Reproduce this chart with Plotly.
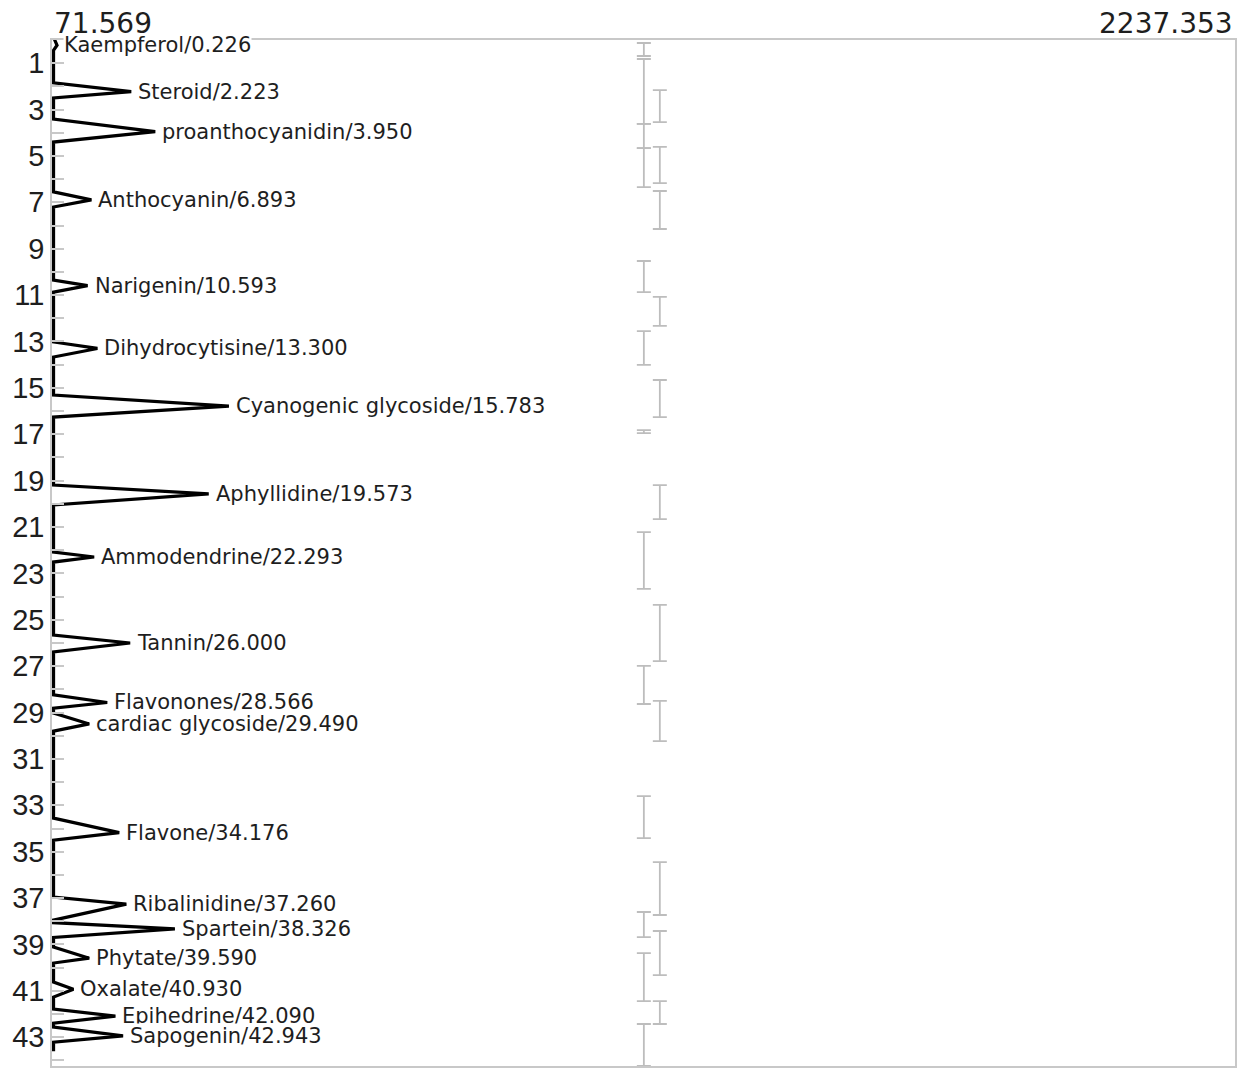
import plotly.graph_objects as go

# ---------------- data ----------------
compound_names = ["Kaempferol", "Steroid", "proanthocyanidin", "Anthocyanin", "Narigenin",
                  "Dihydrocytisine", "Cyanogenic glycoside", "Aphyllidine", "Ammodendrine",
                  "Tannin", "Flavonones", "cardiac glycoside", "Flavone", "Ribalinidine",
                  "Spartein", "Phytate", "Oxalate", "Epihedrine", "Sapogenin"]
retention_times = [0.226, 2.223, 3.950, 6.893, 10.593, 13.300, 15.783, 19.573, 22.293,
                   26.000, 28.566, 29.490, 34.176, 37.260, 38.326, 39.590, 40.930, 42.090, 42.943]
peak_heights = [78, 214, 258, 141, 134, 152, 393, 356, 146,
                212, 170, 137, 192, 205, 294, 137, 108, 185, 199]
peak_starts = [-0.12, 1.85, 3.41, 6.55, 10.35, 13.02, 15.31, 19.19, 22.08,
               25.66, 28.24, 29.02, 33.55, 36.96, 38.06, 39.11, 40.62, 41.79, 42.56]
peak_ends = [0.45, 2.50, 4.40, 7.20, 10.87, 13.67, 16.26, 20.05, 22.51,
             26.39, 28.81, 29.80, 34.50, 37.95, 38.70, 39.80, 41.27, 42.39, 43.21]
run_end_time = 43.6

intensity_min = 71.569
intensity_max = 2237.353

# gray integration-window bars (two columns)
left_bar_start = [0.13, 0.82, 3.62, 4.66, 9.53, 12.55, 16.82, 21.22, 26.99, 32.60, 37.60, 39.37, 42.43]
left_bar_end = [0.69, 3.62, 4.66, 6.34, 10.87, 14.01, 16.95, 23.67, 28.63, 34.41, 38.68, 41.44, 44.24]
right_bar_start = [2.16, 4.61, 6.51, 11.08, 14.66, 19.19, 24.36, 28.50, 35.45, 38.42, 41.44]
right_bar_end = [3.54, 6.17, 8.15, 12.33, 16.26, 20.66, 26.78, 30.23, 37.73, 40.32, 42.43]

y_tick_vals = [1, 3, 5, 7, 9, 11, 13, 15, 17, 19, 21, 23, 25, 27, 29, 31, 33, 35, 37, 39, 41, 43]
y_tick_text = ["1", "3", "5", "7", "9", "11", "13", "15", "17", "19", "21", "23", "25",
               "27", "29", "31", "33", "35", "37", "39", "41", "43"]
y_minor_vals = [0, 2, 4, 6, 8, 10, 12, 14, 16, 18, 20, 22, 24, 26, 28, 30, 32, 34, 36, 38, 40, 42, 44]

# ---------------- build trace ----------------
sig_t, sig_v = [], []
for s, rt, h, e in zip(peak_starts, retention_times, peak_heights, peak_ends):
    sig_t += [s, rt, e]
    sig_v += [intensity_min, h, intensity_min]
sig_t.append(run_end_time)
sig_v.append(intensity_min)

span = intensity_max - intensity_min
x_lo = intensity_min - 0.0013 * span
x_hi = intensity_max
left_col_x = x_lo + 0.5003 * (x_hi - x_lo)
right_col_x = x_lo + 0.5138 * (x_hi - x_lo)

fig = go.Figure()

bar_col = "#bdbdbd"
for col_x, starts, ends in [(left_col_x, left_bar_start, left_bar_end),
                            (right_col_x, right_bar_start, right_bar_end)]:
    mids = [(a + b) / 2 for a, b in zip(starts, ends)]
    fig.add_trace(go.Scatter(
        x=[col_x] * len(mids), y=mids, mode="markers",
        marker=dict(size=1, color="rgba(0,0,0,0)"),
        error_y=dict(type="data", symmetric=False,
                     array=[b - m for b, m in zip(ends, mids)],
                     arrayminus=[m - a for a, m in zip(starts, mids)],
                     color=bar_col, thickness=1.8, width=7),
        hoverinfo="skip", showlegend=False))

fig.add_trace(go.Scatter(x=sig_v, y=sig_t, mode="lines",
                         line=dict(color="black", width=3.2), showlegend=False,
                         hoverinfo="skip"))

text_font = dict(family="DejaVu Sans", size=21, color="#1e1e1e")
for name, rt, h in zip(compound_names, retention_times, peak_heights):
    fig.add_annotation(x=h, y=rt, xref="x", yref="y", text=f"{name}/{rt:.3f}",
                       showarrow=False, xanchor="left", yanchor="middle", xshift=6,
                       font=text_font, bgcolor="white", borderpad=0)

top_font = dict(family="DejaVu Sans", size=28, color="#1e1e1e")
fig.add_annotation(x=0, y=1, xref="paper", yref="paper", text=f"{intensity_min:.3f}",
                   showarrow=False, xanchor="left", yanchor="bottom", yshift=-2, font=top_font)
fig.add_annotation(x=1, y=1, xref="paper", yref="paper", text=f"{intensity_max:.3f}",
                   showarrow=False, xanchor="right", yanchor="bottom", yshift=-2, font=top_font)

frame_col = "#c8c8c8"
fig.update_layout(
    width=1242, height=1062,
    margin=dict(l=41, r=15, t=32, b=4),
    paper_bgcolor="white", plot_bgcolor="white",
    showlegend=False,
    xaxis=dict(range=[x_lo, x_hi], showgrid=False, zeroline=False, showticklabels=False,
               ticks="", showline=True, mirror=True, linecolor=frame_col, linewidth=1.5),
    yaxis=dict(range=[44.24, 0], showgrid=False, zeroline=False,
               tickmode="array", tickvals=y_tick_vals, ticktext=y_tick_text,
               ticks="inside", ticklen=12, tickwidth=1.5, tickcolor=frame_col,
               tickfont=dict(family="Liberation Sans", size=29, color="#1e1e1e"),
               minor=dict(tickmode="array", tickvals=y_minor_vals, ticks="inside",
                          ticklen=12, tickwidth=1.5, tickcolor=frame_col),
               showline=True, mirror=True, linecolor=frame_col, linewidth=1.5),
)

fig.write_html("out.html")
